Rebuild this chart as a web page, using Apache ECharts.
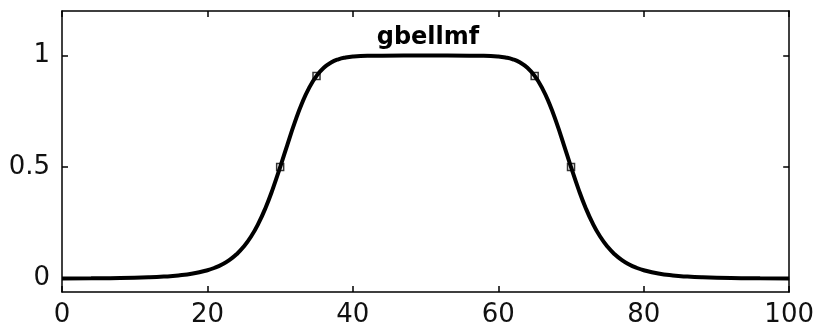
<!DOCTYPE html>
<html>
<head>
<meta charset="utf-8">
<script src="https://cdn.jsdelivr.net/npm/echarts@6/dist/echarts.min.js"></script>
<style>
  html, body { margin: 0; padding: 0; background: #fff; }
  #chart { width: 817px; height: 332px; }
</style>
</head>
<body>
<div id="chart"></div>
<script>
// gbellmf curve
var xs = [0, 4, 8, 12, 14, 16, 18, 20, 21, 22, 23, 24, 25, 26, 27, 28, 29, 30,
  31, 32, 33, 34, 35, 36, 37, 38, 39, 40, 42, 44, 50,
  56, 58, 60, 61, 62, 63, 64, 65, 66, 67, 68, 69, 70,
  71, 72, 73, 74, 75, 76, 77, 78, 79, 80, 82, 84, 86, 88, 92, 96, 100]
var ys = [0.0007, 0.0013, 0.0026, 0.0059, 0.009, 0.0141, 0.0228, 0.0376, 0.0487, 0.0635, 0.0831, 0.1092, 0.1437, 0.1887, 0.2464, 0.3181, 0.4037, 0.5,
  0.6012, 0.6991, 0.7859, 0.8563, 0.909, 0.9455, 0.9691, 0.9835, 0.9917, 0.9961, 0.9993, 0.9999, 1,
  0.9999, 0.9993, 0.9961, 0.9917, 0.9835, 0.9691, 0.9455, 0.909, 0.8563, 0.7859, 0.6991, 0.6012, 0.5,
  0.4037, 0.3181, 0.2464, 0.1887, 0.1437, 0.1092, 0.0831, 0.0635, 0.0487, 0.0376, 0.0228, 0.0141, 0.009, 0.0059, 0.0026, 0.0013, 0.0007]
// little squares on the curve
var markX = [30, 35, 65, 70]
var markY = [0.5, 0.909, 0.909, 0.5]
var xTicks = [0, 20, 40, 60, 80, 100]
var yTicks = [0, 0.5, 1]

var lineData = []
for (var i = 0; i < xs.length; i++) {
    lineData.push([xs[i], ys[i]])
}
var markData = []
for (var j = 0; j < markX.length; j++) {
    markData.push([markX[j], markY[j]])
}

var black = '#000'
var font = 'DejaVu Sans'

var myChart = echarts.init(document.getElementById('chart'), null, {renderer: 'canvas'})

// box round the plot: both x axes and both y axes, ticks pointing in
function xAx(pos, labels) {
    return {
        type: 'value', min: 0, max: 100, interval: 20, position: pos,
        axisLine: {onZero: false, lineStyle: {color: black, width: 1.5}},
        axisTick: {inside: true, length: 6, lineStyle: {color: black, width: 1.5}},
        axisLabel: {show: labels, margin: 10, fontFamily: font, fontSize: 26, color: '#111'},
        splitLine: {show: false}
    }
}
function yAx(pos, labels) {
    return {
        type: 'value', min: -0.06, max: 1.2, position: pos,
        axisLine: {show: true, onZero: false, lineStyle: {color: black, width: 1.5}},
        axisTick: {show: true, inside: true, length: 6, customValues: yTicks, lineStyle: {color: black, width: 1.5}},
        axisLabel: {show: labels, margin: 12, customValues: yTicks, fontFamily: font, fontSize: 26, color: '#111'},
        splitLine: {show: false}
    }
}

var option = {
    animation: false,
    backgroundColor: '#fff',
    title: {
        text: 'gbellmf',
        left: 423,
        textAlign: 'center',
        top: 21,
        textStyle: {fontFamily: font, fontWeight: 'bold', fontSize: 24, color: black}
    },
    grid: {left: 62, right: 26, top: 11, bottom: 40},
    xAxis: [xAx('bottom', true), xAx('top', false)],
    yAxis: [yAx('left', true), yAx('right', false)],
    series: [{
        type: 'line',
        data: lineData,
        smooth: true,
        showSymbol: false,
        lineStyle: {color: black, width: 4}
    }, {
        type: 'scatter',
        data: markData,
        symbol: 'rect',
        symbolSize: 7,
        itemStyle: {color: '#fff', borderColor: black, borderWidth: 1.5}
    }]
}
myChart.setOption(option)
</script>
</body>
</html>
